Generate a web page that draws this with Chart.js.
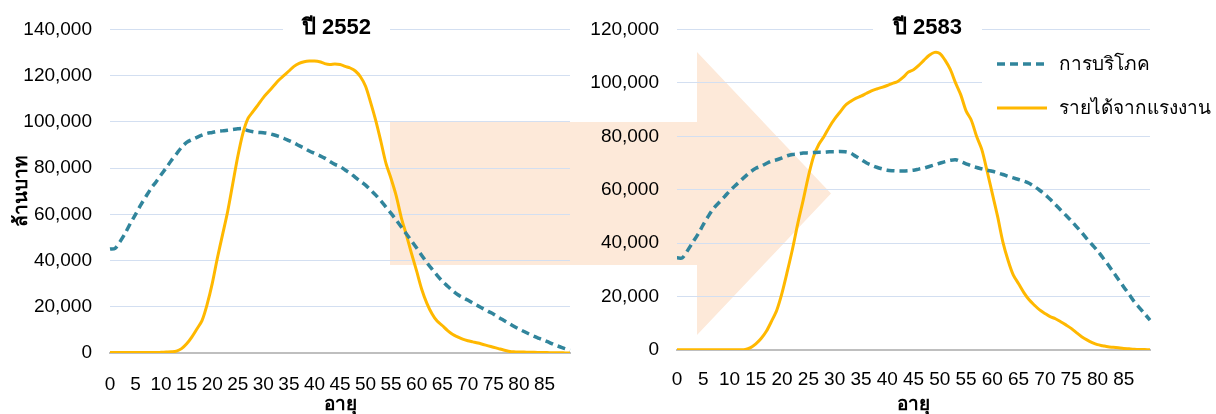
<!DOCTYPE html>
<html>
<head>
<meta charset="utf-8">
<script src="https://cdn.jsdelivr.net/npm/chart.js@4.4.1/dist/chart.umd.min.js"></script>
<style>
  html, body { margin: 0; padding: 0; background: #fff; }
  #wrap { position: relative; width: 1216px; height: 414px; overflow: hidden; }
  #arrow { position: absolute; left: 0; top: 0; }
  canvas { position: absolute; top: 0; }
</style>
</head>
<body>
<div id="wrap">
  <svg id="arrow" width="1216" height="414">
    <polygon points="390,122 697,122 697,52 831,193.5 697,335 697,265 390,265" fill="#FDE9D9"/>
  </svg>
  <canvas id="c2552" width="590" height="414" style="left:0px"></canvas>
  <canvas id="c2583" width="626" height="414" style="left:590px"></canvas>
</div>
<script>
// Age categories (years)
const ages = [0,1,2,3,4,5,6,7,8,9,10,11,12,13,14,15,16,17,18,19,20,21,22,23,24,25,26,27,28,29,
  30,31,32,33,34,35,36,37,38,39,40,41,42,43,44,45,46,47,48,49,50,51,52,53,54,55,56,57,58,59,
  60,61,62,63,64,65,66,67,68,69,70,71,72,73,74,75,76,77,78,79,80,81,82,83,84,85,86,87,88,89,90];

// Age labels printed under the axis
const ageTickLabels = ['0','5','10','15','20','25','30','35','40','45','50','55','60','65','70','75','80','85'];

// Year 2552: consumption and labour income by age (million baht)
const consumption2552 = [45000,45300,48300,51900,56100,60000,64000,67600,71100,74000,
  77100,80100,83300,86100,89000,91100,92300,93300,94300,95000,
  95400,95900,96100,96400,96700,97000,97100,96200,95700,95400,
  95300,95000,94400,93700,92900,91900,90900,89700,88600,87400,
  86400,85400,84300,82900,81600,80700,79200,77800,76000,74300,
  72600,70500,68300,65800,63100,60400,57500,54500,51500,48500,
  45400,42200,39100,36300,33600,31100,29000,27000,25300,24000,
  22900,21600,20400,19200,18000,16900,15500,14200,12900,11600,
  10400,9300,8200,7200,6300,5400,4500,3500,2700,1900,1200];

const labour2552 = [200,200,200,200,200,200,200,200,200,200,
  300,400,500,800,1900,4000,6900,10400,14000,21000,
  30000,41000,51000,61000,73000,85000,95000,101500,104500,107500,
  110500,113000,115500,118000,120000,122000,124000,125300,126000,126300,
  126300,126000,125200,124800,125000,124800,124000,123300,122000,119500,
  115400,108300,100500,91500,82000,75400,68000,58500,51000,43000,
  35400,27500,21500,17000,13800,11900,9800,8100,7000,6000,
  5300,4800,4300,3700,3100,2500,1900,1300,800,500,
  400,400,300,300,250,200,150,100,100,50,0];

// Year 2583: consumption and labour income by age (million baht)
const consumption2583 = [34500,34500,37200,40300,43400,46900,50200,53100,55200,57300,
  59500,61400,63200,65000,66700,68000,68800,69800,70700,71200,
  71900,72700,73200,73400,73700,73800,73900,74000,74000,74200,
  74200,74300,74200,73700,72500,71300,70100,69200,68400,67800,
  67300,67100,67000,67000,67100,67300,67700,68100,68700,69300,
  69900,70500,71000,71200,70500,69700,68900,68300,67800,67300,
  66900,66300,65700,65000,64400,63800,63200,62400,61200,59800,
  58200,56400,54400,52400,50400,48400,46200,44000,41600,39400,
  37200,34600,32000,29200,26400,23600,20900,18100,15800,13500,11200];

const labour2583 = [100,100,100,100,100,100,100,100,100,100,
  100,100,100,200,900,2300,4300,7000,10800,15000,
  21500,29500,38000,47500,56000,65000,72500,77000,80000,83500,
  86500,89000,91500,93000,94200,95000,96000,97000,97700,98300,
  99000,99800,100500,102000,104000,104900,106500,108500,110300,111400,
  111000,108500,105000,100000,95500,89500,86000,80000,75000,67000,
  58500,50000,40500,33500,28000,24800,21500,18800,16800,15000,
  13700,12500,11700,10600,9400,8100,6500,5000,3800,2800,
  2000,1600,1200,1000,800,600,450,300,200,150,100];

const seriesNames = ['การบริโภค', 'รายได้จากแรงงาน'];
const FONT = "Tahoma, 'Liberation Sans', 'Noto Sans', sans-serif";
const TEAL = '#31859C';
const GOLD = '#FFB800';
const GRID = '#D3DFF1';
const AXIS = '#BFBFBF';

// Panel heading drawn on a white patch over the top grid line
const panelHeading = {
  id: 'panelHeading',
  beforeDatasetsDraw(chart, args, opts) {
    const ctx = chart.ctx;
    ctx.save();
    ctx.fillStyle = '#ffffff';
    ctx.fillRect(opts.x - opts.w / 2, opts.y - 14, opts.w, 28);
    ctx.font = 'bold 22px ' + FONT;
    ctx.fillStyle = '#000000';
    ctx.textAlign = 'center';
    ctx.textBaseline = 'middle';
    ctx.fillText(opts.text, opts.x, opts.y);
    ctx.restore();
  }
};

// Series key laid over the upper right of the plot
const seriesKey = {
  id: 'seriesKey',
  afterDraw(chart, args, opts) {
    if (!opts.show) return;
    const ctx = chart.ctx;
    ctx.save();
    ctx.fillStyle = '#ffffff';
    ctx.fillRect(opts.boxX, opts.boxY, opts.boxW, opts.boxH);
    chart.data.datasets.forEach((ds, i) => {
      const y = opts.rowY[i];
      ctx.strokeStyle = ds.borderColor;
      ctx.lineWidth = ds.borderWidth;
      ctx.setLineDash(ds.borderDash || []);
      ctx.beginPath();
      ctx.moveTo(opts.lineX, y);
      ctx.lineTo(opts.lineX + opts.lineW, y);
      ctx.stroke();
      ctx.setLineDash([]);
      ctx.fillStyle = '#000000';
      ctx.font = '19px ' + FONT;
      ctx.textAlign = 'left';
      ctx.textBaseline = 'middle';
      ctx.fillText(ds.label, opts.textX, y + 1);
    });
    ctx.restore();
  }
};

function makePanel(canvasId, cons, lab, yMax, cfg) {
  return new Chart(document.getElementById(canvasId), {
    type: 'line',
    data: {
      labels: ages.map(String),
      datasets: [
        { label: seriesNames[0], data: cons, borderColor: TEAL, borderWidth: 3.5,
          borderDash: [8, 5], pointRadius: 0, tension: 0.3, fill: false },
        { label: seriesNames[1], data: lab, borderColor: GOLD, borderWidth: 3,
          pointRadius: 0, tension: 0.3, fill: false }
      ]
    },
    options: {
      responsive: false,
      animation: false,
      events: [],
      layout: { padding: { top: 27, left: 0, right: cfg.padRight, bottom: 0 } },
      plugins: {
        legend: { display: false },
        tooltip: { enabled: false },
        title: { display: false },
        panelHeading: cfg.heading,
        seriesKey: cfg.key
      },
      scales: {
        x: {
          type: 'category',
          grid: { display: false, drawTicks: false },
          border: { display: true, color: AXIS, width: 2 },
          ticks: {
            autoSkip: false, maxRotation: 0, minRotation: 0, padding: cfg.xTickPad,
            color: '#000', font: { family: FONT, size: 19 },
            callback(v) {
              const a = this.getLabelForValue(v);
              return ageTickLabels.includes(a) ? a : '';
            }
          },
          title: { display: true, text: 'อายุ', color: '#000',
            font: { family: FONT, size: 19, weight: 'bold', lineHeight: 1 }, padding: 0 },
          afterFit(scale) { scale.height = cfg.xHeight; }
        },
        y: {
          min: 0, max: yMax,
          grid: { color: GRID, lineWidth: 1, drawTicks: false },
          border: { display: false },
          ticks: {
            stepSize: 20000, padding: 18, color: '#000',
            font: { family: FONT, size: 19 },
            callback: v => v.toLocaleString('en-US')
          },
          title: { display: cfg.yTitle, text: 'ล้านบาท', color: '#000',
            font: { family: FONT, size: 19, weight: 'bold', lineHeight: 1.2 },
            padding: { top: 10, bottom: 0 } },
          afterFit(scale) { scale.width = cfg.yWidth; }
        }
      }
    },
    plugins: [panelHeading, seriesKey]
  });
}

makePanel('c2552', consumption2552, labour2552, 140000, {
  padRight: 7, xHeight: 61, yWidth: 110, yTitle: true, xTickPad: 20,
  heading: { text: 'ปี 2552', x: 336.5, y: 28, w: 107 },
  key: { show: false }
});

makePanel('c2583', consumption2583, labour2583, 120000, {
  padRight: 66, xHeight: 64, yWidth: 87, yTitle: false, xTickPad: 18,
  heading: { text: 'ปี 2583', x: 337.5, y: 28, w: 109 },
  key: { show: true, boxX: 392, boxY: 40, boxW: 234, boxH: 88,
         lineX: 407, lineW: 50, textX: 469, rowY: [64, 108] }
});
</script>
</body>
</html>
